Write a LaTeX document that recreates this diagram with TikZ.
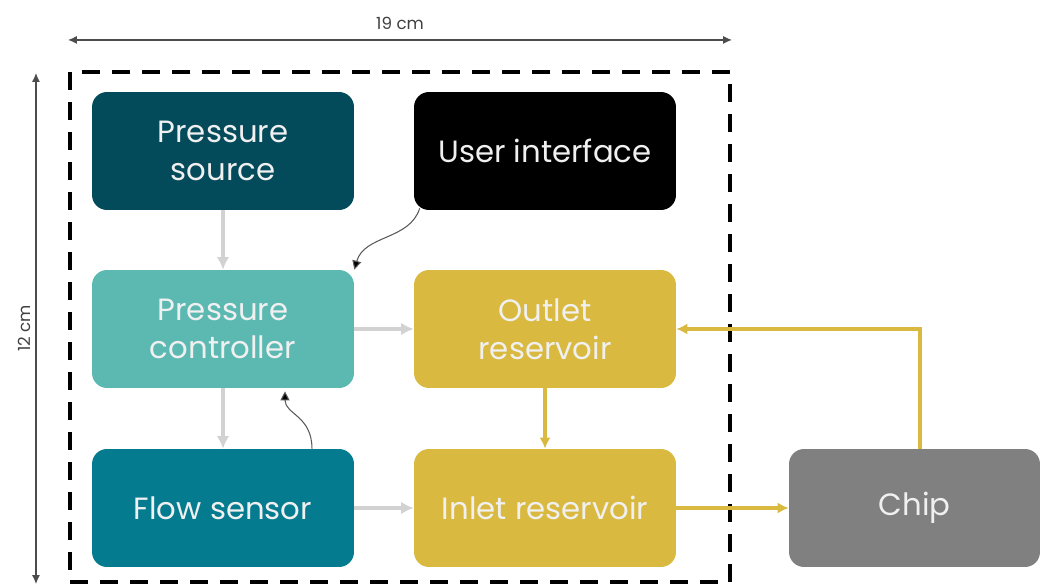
\documentclass[tikz,border=0pt]{standalone}
\usepackage{fontspec}
\setmainfont{Poppins}
\usetikzlibrary{arrows.meta,positioning}

\definecolor{deepteal}{RGB}{3,74,90}
\definecolor{softteal}{RGB}{91,185,178}
\definecolor{seateal}{RGB}{4,123,143}
\definecolor{mustard}{RGB}{217,185,63}
\definecolor{chipgray}{RGB}{128,128,128}
\definecolor{pipegray}{RGB}{210,210,210}

\begin{document}
\begin{tikzpicture}[x=0.02cm,y=-0.02cm,
  block/.style={rectangle,rounded corners=0.3cm,minimum width=5.24cm,minimum height=2.36cm,
    align=center,inner sep=0pt,text=white!94!black,font=\fontsize{17.5}{21.5}\selectfont},
  frame/.style={draw=black,line width=2.4pt,dash pattern=on 0.36cm off 0.24cm,
    minimum width=13.2cm,minimum height=10.2cm,inner sep=0pt},
  air/.style={draw=pipegray,line width=2.2pt,-{Latex[length=0.25cm,width=0.25cm]}},
  fluid/.style={draw=mustard,line width=1.8pt,-{Latex[length=0.22cm,width=0.22cm]}},
  signal/.style={draw=black!65,line width=0.6pt,-{Triangle[length=0.18cm,width=0.18cm,fill=black]}},
  dim/.style={draw=black!70,line width=0.7pt,{Latex[length=0.18cm,width=0.16cm]}-{Latex[length=0.18cm,width=0.16cm]}},
  dimlabel/.style={text=black!75,font=\fontsize{9.5}{11}\selectfont}]
  \useasboundingbox (0,0) rectangle (1040,587);

  \node[frame] (box) at (400,327) {};

  \node[block,fill=deepteal] (psource) at (223,151) {Pressure\\source};
  \node[block,fill=black] (ui) at (545,151) {User interface};
  \node[block,fill=softteal] (pctrl) at (223,329) {Pressure\\controller};
  \node[block,fill=mustard] (outlet) at (545,329) {Outlet\\reservoir};
  \node[block,fill=seateal] (fsensor) at (223,508) {Flow sensor};
  \node[block,fill=mustard] (inlet) at (545,508) {Inlet reservoir};
  \node[block,fill=chipgray,minimum width=5.02cm] (chip) at (914.5,508) {Chip};

  % air lines
  \draw[air] (psource) -- (pctrl);
  \draw[air] (pctrl) -- (outlet);
  \draw[air] (pctrl) -- (fsensor);
  \draw[air] (fsensor) -- (inlet);

  % liquid lines
  \draw[fluid] (outlet) -- (inlet);
  \draw[fluid] (inlet) -- (chip);
  \draw[fluid] ([xshift=0.11cm]chip.north) |- (outlet.east);

  % signals
  \draw[signal] ([xshift=0.12cm,yshift=0.04cm]ui.south west)
    .. controls +(-0.2cm,-0.64cm) and +(0.2cm,0.7cm) .. (pctrl.north east);
  \draw[signal] ([xshift=1.78cm]fsensor.north)
    .. controls +(0cm,0.66cm) and +(0cm,-0.46cm) .. ([xshift=1.24cm,yshift=-0.06cm]pctrl.south);

  % sizes
  \draw[dim] ([yshift=0.6cm]box.north west) -- node[above=0.08cm,dimlabel] {19 cm}
    ([yshift=0.6cm]box.north east);
  \draw[dim] ([xshift=-0.64cm,yshift=-0.06cm]box.north west) -- node[midway,rotate=90,anchor=south,inner sep=0.1cm,dimlabel] {12 cm}
    ([xshift=-0.64cm]box.south west);
\end{tikzpicture}
\end{document}
